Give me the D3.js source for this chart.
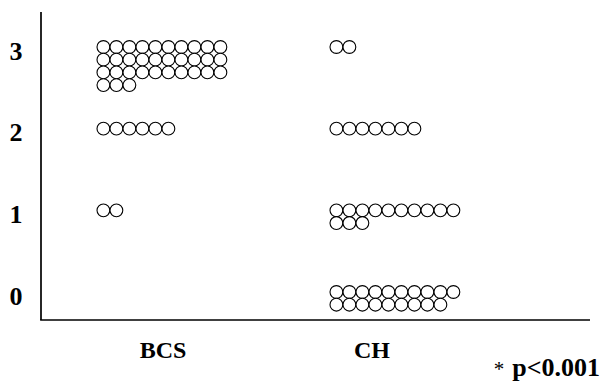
<!DOCTYPE html>
<html>
<head>
<meta charset="utf-8">
<script src="https://cdn.jsdelivr.net/npm/d3@7"></script>
<style>
  html, body { margin: 0; padding: 0; background: #fff; }
  svg { display: block; }
  text { font-family: "Liberation Serif", "Times New Roman", serif; font-weight: bold; fill: #000; }
</style>
</head>
<body>
<svg id="chart" width="603" height="382"></svg>
<script>
// Score categories (y axis) and groups (x axis)
const groups = ["BCS", "CH"];
const scores = [0, 1, 2, 3];
const tickLabels = ["0", "1", "2", "3"];

// Number of subjects at each score, per group (index = score)
const bcsCounts = [0, 2, 6, 33];
const chCounts = [19, 13, 7, 2];

const noteMark = "*";
const noteText = "p<0.001";

const svg = d3.select("#chart");

const perRow = 10;
const r = 6.4;
const colStep = 13;
const rowStep = 12.7;

const y = d3.scaleLinear().domain([0, 3]).range([292, 47]);
const x = d3.scaleBand().domain(groups).range([97, 563]).paddingInner(0).paddingOuter(0);
const labelX = d3.scalePoint().domain(groups).range([163, 372]);

// axis lines
const axisLeft = 41, axisBottom = 320, axisTop = 12, axisRight = 590;
svg.append("line")
  .attr("x1", axisLeft).attr("x2", axisLeft)
  .attr("y1", axisTop).attr("y2", axisBottom)
  .attr("stroke", "#000").attr("stroke-width", 1.7);
svg.append("line")
  .attr("x1", axisLeft - 0.85).attr("x2", axisRight)
  .attr("y1", axisBottom).attr("y2", axisBottom)
  .attr("stroke", "#000").attr("stroke-width", 1.7);

// y tick labels
svg.selectAll("text.tick")
  .data(scores)
  .join("text")
  .attr("class", "tick")
  .attr("x", 16)
  .attr("y", d => y(d) + 4)
  .attr("text-anchor", "middle")
  .attr("dominant-baseline", "central")
  .attr("font-size", 26)
  .text((d, i) => tickLabels[i]);

// expand counts into individual dots, stacked in rows of ten below each score
const counts = { BCS: bcsCounts, CH: chCounts };
const dots = [];
groups.forEach(g => {
  counts[g].forEach((n, s) => {
    for (let i = 0; i < n; i++) {
      dots.push({ group: g, score: s, col: i % perRow, row: Math.floor(i / perRow) });
    }
  });
});

svg.append("g")
  .selectAll("circle")
  .data(dots)
  .join("circle")
  .attr("cx", d => x(d.group) + r + d.col * colStep)
  .attr("cy", d => y(d.score) + d.row * rowStep)
  .attr("r", r)
  .attr("fill", "#fff")
  .attr("stroke", "#000")
  .attr("stroke-width", 1.1);

// group labels
svg.selectAll("text.group")
  .data(groups)
  .join("text")
  .attr("class", "group")
  .attr("x", d => labelX(d))
  .attr("y", 358)
  .attr("text-anchor", "middle")
  .attr("font-size", 24)
  .text(d => d);

// significance note
const noteEl = svg.append("text")
  .attr("x", 600)
  .attr("y", 376)
  .attr("text-anchor", "end");
noteEl.append("tspan")
  .attr("font-size", 21)
  .attr("font-weight", "normal")
  .text(noteMark);
noteEl.append("tspan")
  .attr("dx", 8)
  .attr("font-size", 26)
  .text(noteText);
</script>
</body>
</html>
